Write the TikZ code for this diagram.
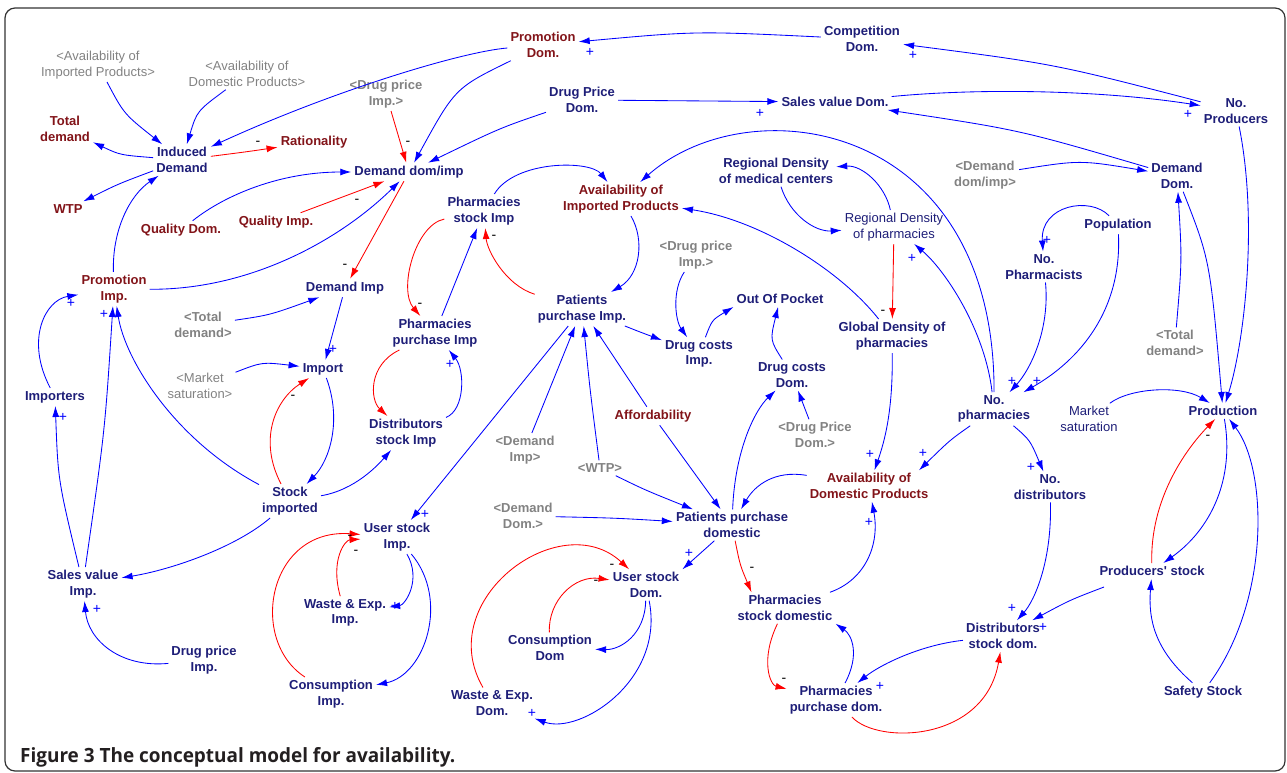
\documentclass[tikz,border=0pt]{standalone}
\usepackage{fontspec}
\setmainfont{Liberation Sans}
\newfontfamily\capfont{Open Sans}
\usetikzlibrary{arrows.meta}
\definecolor{navyt}{RGB}{30,30,120}
\definecolor{maroont}{RGB}{130,20,25}
\definecolor{grayt}{RGB}{130,130,130}
\definecolor{ablue}{RGB}{0,0,255}
\definecolor{ared}{RGB}{255,0,0}
\definecolor{framec}{RGB}{50,50,50}
\definecolor{capc}{RGB}{35,31,32}
\tikzset{
  lbl/.style={align=center, inner sep=3pt},
  nv/.style={lbl, text=navyt, font=\fontsize{13}{15.5}\selectfont\bfseries},
  nr/.style={lbl, text=navyt, font=\fontsize{13}{15.5}\selectfont},
  mr/.style={lbl, text=maroont, font=\fontsize{13}{15.5}\selectfont\bfseries},
  gb/.style={lbl, text=grayt, font=\fontsize{13}{15.5}\selectfont\bfseries},
  gr/.style={lbl, text=grayt, font=\fontsize{13}{15.5}\selectfont},
  link/.style={line width=0.85pt, -{Latex[length=11pt,width=7pt]}},
  bl/.style={link, draw=ablue},
  rd/.style={link, draw=ared},
  pl/.style={text=ablue, font=\fontsize{14}{14}\selectfont, inner sep=0pt},
  mi/.style={text=black, font=\fontsize{14}{14}\selectfont, inner sep=0pt},
}
\begin{document}
\begin{tikzpicture}[x=1pt,y=-1pt]
\useasboundingbox (0,0) rectangle (1287,773);
\draw[framec, line width=1.2pt, rounded corners=10pt] (5,8) rectangle (1285,771);

% ---------- nodes ----------
\node[mr] (promD) at (543,45) {Promotion\\Dom.};
\node[nv] (compD) at (862,39) {Competition\\Dom.};
\node[nv] (dpD) at (582,100) {Drug Price\\Dom.};
\node[nv] (svD) at (835,102) {Sales value Dom.};
\node[nv] (noProd) at (1236,111) {No.\\Producers};
\node[gr] (gAvI) at (98,65) {<Availability of\\Imported Products>};
\node[gr] (gAvD) at (247,74) {<Availability of\\Domestic Products>};
\node[gb] (gDpI1) at (386,94) {<Drug price\\Imp.>};
\node[mr] (totD) at (65,129) {Total\\demand};
\node[nv] (indD) at (182,160) {Induced\\Demand};
\node[mr] (rat) at (314,142) {Rationality};
\node[nv] (ddi) at (409,172) {Demand dom/imp};
\node[mr] (wtp) at (68,209) {WTP};
\node[mr] (qD) at (181,230) {Quality Dom.};
\node[mr] (qI) at (276,222) {Quality Imp.};
\node[mr] (avI) at (621,199) {Availability of\\Imported Products};
\node[nv] (rdm) at (776,171) {Regional Density\\of medical centers};
\node[gb] (gDdi) at (985,175) {<Demand\\dom/imp>};
\node[nv] (demD) at (1177,176) {Demand\\Dom.};
\node[nv] (psI) at (484,211) {Pharmacies\\stock Imp};
\node[nr] (rdp) at (894,227) {Regional Density\\of pharmacies};
\node[nv] (pop) at (1118,225) {Population};
\node[nv] (noPh) at (1044,267) {No.\\Pharmacists};
\node[gb] (gDpI2) at (696,255) {<Drug price\\Imp.>};
\node[mr] (promI) at (114,289) {Promotion\\Imp.};
\node[nv] (demI) at (345,288) {Demand Imp};
\node[nv] (ppI) at (582,309) {Patients\\purchase Imp.};
\node[nv] (oop) at (780,299) {Out Of Pocket};
\node[nv] (gdp) at (892,336) {Global Density of\\pharmacies};
\node[gb] (gTot1) at (203,325) {<Total\\demand>};
\node[nv] (ppuI) at (435,333) {Pharmacies\\purchase Imp};
\node[nv] (dcI) at (699,354) {Drug costs\\Imp.};
\node[gb] (gTot2) at (1175,343) {<Total\\demand>};
\node[nv] (imp) at (323,369) {Import};
\node[gr] (gMS) at (200,386) {<Market\\saturation>};
\node[nv] (dcD) at (792,375) {Drug costs\\Dom.};
\node[nv] (importers) at (55,397) {Importers};
\node[nv] (noPhar) at (994,409) {No.\\pharmacies};
\node[nv] (prod) at (1223,411) {Production};
\node[nr] (ms) at (1089,419) {Market\\saturation};
\node[mr] (aff) at (653,416) {Affordability};
\node[nv] (dsI) at (406,433) {Distributors\\stock Imp};
\node[gb] (gDpD) at (815,435) {<Drug Price\\Dom.>};
\node[gb] (gDemI) at (525,450) {<Demand\\Imp>};
\node[gb] (gWTP) at (600,468) {<WTP>};
\node[mr] (avD) at (869,486) {Availability of\\Domestic Products};
\node[nv] (noDist) at (1050,487) {No.\\distributors};
\node[nv] (stI) at (290,501) {Stock\\imported};
\node[gb] (gDemD) at (523,516) {<Demand\\Dom.>};
\node[nv] (ppD) at (732,525) {Patients purchase\\domestic};
\node[nv] (usI) at (397,537) {User stock\\Imp.};
\node[nv] (prodSt) at (1152,571) {Producers\textquotesingle{} stock};
\node[nv] (svI) at (83,584) {Sales value\\Imp.};
\node[nv] (usD) at (646,585) {User stock\\Dom.};
\node[nv] (weI) at (345,613) {Waste \& Exp.\\Imp.};
\node[nv] (psD) at (785,608) {Pharmacies\\stock domestic};
\node[nv] (dsD) at (1003,636) {Distributors\\stock dom.};
\node[nv] (cD) at (550,648) {Consumption\\Dom};
\node[nv] (dpI) at (204,660) {Drug price\\Imp.};
\node[nv] (cI) at (331,694) {Consumption\\Imp.};
\node[nv] (safe) at (1203,692) {Safety Stock};
\node[nv] (weD) at (492,703) {Waste \& Exp.\\Dom.};
\node[nv] (ppuD) at (836,700) {Pharmacies\\purchase dom.};

% ---------- connectors ----------
\draw[bl] (gAvI) .. controls (124,114) .. (indD);
\draw[bl] (gAvD) .. controls (197,111) .. (indD);
\draw[bl] (promD) .. controls (460,52) and (330,92) .. (indD);
\draw[bl] (promD) .. controls (455,88) .. (ddi);
\draw[bl] (compD) .. controls (696,31) .. (promD);
\draw[bl] (noProd) .. controls (1055,64) .. (compD);
\draw[bl] (dpD) -- (svD);
\draw[bl] (svD) .. controls (980,88) and (1100,90) .. (noProd);
\draw[bl] (demD) .. controls (1020,130) .. (svD);
\draw[bl] (dpD) .. controls (500,128) .. (ddi);
\draw[rd] (gDpI1) -- (ddi);
\draw[rd] (indD) .. controls (245,152) .. (rat);
\draw[bl] (indD) .. controls (120,155) .. (totD);
\draw[bl] (indD) .. controls (118,184) .. (wtp);
\draw[bl] (qD) .. controls (225,195) and (280,172) .. (ddi);
\draw[rd] (qI) -- (ddi);
\draw[bl] (promI) .. controls (250,290) and (340,240) .. (ddi);
\draw[rd] (ddi) -- (demI);
\draw[rd] (psI) .. controls (415,225) and (398,290) .. (ppuI);
\draw[bl] (ppuI) -- (psI);
\draw[rd] (ppI) .. controls (505,285) and (487,250) .. (psI);
\draw[bl] (psI) .. controls (515,160) and (590,160) .. (avI);
\draw[bl] (avI) .. controls (645,240) and (640,275) .. (ppI);
\draw[bl] (noPhar) .. controls (995,120) and (750,85) .. (avI);
\draw[bl] (gdp) .. controls (840,270) and (760,220) .. (avI);
\draw[bl] (rdm) .. controls (790,215) and (815,232) .. (rdp);
\draw[bl] (rdp) .. controls (885,185) and (862,165) .. (rdm);
\draw[rd] (rdp) -- (gdp);
\draw[bl] (noPhar) .. controls (985,330) and (945,270) .. (rdp);
\draw[bl] (gDdi) .. controls (1080,160) .. (demD);
\draw[bl] (pop) .. controls (1090,196) and (1040,205) .. (noPh);
\draw[bl] (pop) .. controls (1122,310) and (1080,360) .. (noPhar);
\draw[bl] (noPh) .. controls (1050,330) and (1030,370) .. (noPhar);
\draw[bl] (demD) .. controls (1210,260) .. (prod);
\draw[bl] (noProd) .. controls (1258,220) and (1245,340) .. (prod);
\draw[bl] (gTot2) .. controls (1182,260) .. (demD);
\draw[bl] (ms) .. controls (1130,388) and (1180,385) .. (prod);
\draw[rd] (prodSt) .. controls (1150,500) and (1185,450) .. (prod);
\draw[bl] (prod) .. controls (1235,480) and (1210,530) .. (prodSt);
\draw[bl] (safe) .. controls (1270,600) and (1268,470) .. (prod);
\draw[bl] (safe) .. controls (1155,650) and (1148,620) .. (prodSt);
\draw[bl] ([shift={(-48,16)}]prodSt.center) .. controls (1070,600) .. (dsD);
\draw[bl] (noDist) .. controls (1052,560) and (1035,600) .. (dsD);
\draw[bl] (dsD) .. controls (920,645) and (880,665) .. (ppuD);
\draw[rd] (ppuD) .. controls (878,745) and (985,742) .. (dsD);
\draw[bl] (noPhar) .. controls (1030,440) .. (noDist);
\draw[bl] (noPhar) .. controls (950,440) .. ([shift={(50,0)}]avD.north);
\draw[bl] (gdp) .. controls (893,410) and (885,440) .. (avD);
\draw[bl] (psD) .. controls (865,580) and (880,545) .. (avD);
\draw[bl] (avD) .. controls (775,470) and (755,485) .. (ppD);
\draw[bl] (ppD) .. controls (735,450) and (755,410) .. (dcD);
\draw[bl] (gDpD) -- (dcD);
\draw[bl] (dcD) .. controls (770,340) .. (oop);
\draw[bl] (dcI) .. controls (712,320) .. (oop.south west);
\draw[bl] (gDpI2) .. controls (672,290) and (675,320) .. (dcI);
\draw[bl] (ppI) .. controls (640,332) .. (dcI);
\draw[bl] (aff) -- (ppI);
\draw[bl] (gWTP) .. controls (590,390) .. (ppI);
\draw[bl] (gDemI) -- (ppI);
\draw[bl] (ppI) -- (usI);
\draw[bl] (aff) -- (ppD);
\draw[bl] (gWTP) .. controls (645,490) .. (ppD);
\draw[bl] (gDemD) .. controls (615,518) .. (ppD);
\draw[bl] (ppD) -- (usD.north east);
\draw[rd] (ppD) .. controls (740,565) .. ([shift={(17,0)}]psD.north west);
\draw[rd] (psD) .. controls (760,660) and (770,685) .. (ppuD);
\draw[bl] (ppuD) .. controls (860,655) and (852,635) .. (psD.south east);
\draw[bl] (usD) .. controls (645,635) and (620,650) .. (cD);
\draw[bl] (usD) .. controls (665,680) and (580,735) .. (weD);
\draw[rd] (cD) .. controls (548,600) and (575,575) .. (usD);
\draw[rd] (weD) .. controls (432,600) and (560,505) .. (usD);
\draw[bl] (usI) .. controls (422,580) and (405,605) .. (weI);
\draw[bl] (usI) .. controls (450,600) and (425,675) .. (cI);
\draw[rd] (weI) .. controls (330,560) and (345,540) .. (usI);
\draw[rd] (cI) .. controls (248,640) and (268,528) .. (usI);
\draw[bl] (stI) .. controls (235,548) and (170,570) .. (svI);
\draw[rd] (stI) .. controls (258,440) and (275,400) .. (imp);
\draw[bl] (imp) .. controls (342,420) and (330,460) .. (stI);
\draw[bl] (stI) .. controls (355,490) and (378,465) .. (dsI);
\draw[bl] (dsI) .. controls (465,410) and (465,370) .. (ppuI);
\draw[rd] (ppuI) .. controls (368,365) and (370,400) .. (dsI);
\draw[bl] (demI) -- (imp);
\draw[bl] (gTot1) .. controls (270,315) .. (demI);
\draw[bl] (gMS) .. controls (262,362) .. (imp);
\draw[bl] (stI) .. controls (175,440) and (125,360) .. (promI);
\draw[bl] (svI) .. controls (105,430) .. (promI);
\draw[bl] (svI) .. controls (58,480) .. (importers);
\draw[bl] (importers) .. controls (25,340) and (45,300) .. (promI);
\draw[bl] (dpI) .. controls (120,668) and (88,640) .. (svI);
\draw[bl] (promI) .. controls (112,230) and (130,195) .. (indD);

% ---------- polarities ----------
\node[pl] (s1) at (590,52) {+};
\node[pl] (s2) at (913,55) {+};
\node[pl] (s3) at (760,113) {+};
\node[pl] (s4) at (1188,114) {+};
\node[pl] (s5) at (912,258) {+};
\node[pl] (s6) at (1047,240) {+};
\node[pl] (s7) at (1037,381) {+};
\node[pl] (s8) at (1012,381) {+};
\node[pl] (s9) at (104,314) {+};
\node[pl] (s10) at (71,303) {+};
\node[pl] (s11) at (63,417) {+};
\node[pl] (s12) at (333,349) {+};
\node[pl] (s13) at (450,364) {+};
\node[pl] (s14) at (425,514) {+};
\node[pl] (s15) at (395,606) {+};
\node[pl] (s16) at (97,609) {+};
\node[pl] (s17) at (689,553) {+};
\node[pl] (s18) at (532,713) {+};
\node[pl] (s19) at (870,454) {+};
\node[pl] (s20) at (923,453) {+};
\node[pl] (s21) at (1031,467) {+};
\node[pl] (s22) at (869,522) {+};
\node[pl] (s23) at (1012,608) {+};
\node[pl] (s24) at (1043,627) {+};
\node[pl] (s25) at (880,686) {+};
\node[mi] (m1) at (408,143) {-};
\node[mi] (m2) at (258,143) {-};
\node[mi] (m3) at (357,201) {-};
\node[mi] (m4) at (345,266) {-};
\node[mi] (m5) at (420,305) {-};
\node[mi] (m6) at (494,237) {-};
\node[mi] (m7) at (883,312) {-};
\node[mi] (m8) at (293,397) {-};
\node[mi] (m9) at (356,552) {-};
\node[mi] (m10) at (350,537) {-};
\node[mi] (m11) at (752,569) {-};
\node[mi] (m12) at (784,680) {-};
\node[mi] (m13) at (596,582) {-};
\node[mi] (m14) at (612,566) {-};
\node[mi] (m15) at (1208,437) {-};

% ---------- caption ----------
\node[anchor=base west, inner sep=0pt, text=capc] (cap) at (20,762)
  {\resizebox{435pt}{15pt}{\capfont\bfseries Figure 3 The conceptual model for availability.}};
\end{tikzpicture}
\end{document}
